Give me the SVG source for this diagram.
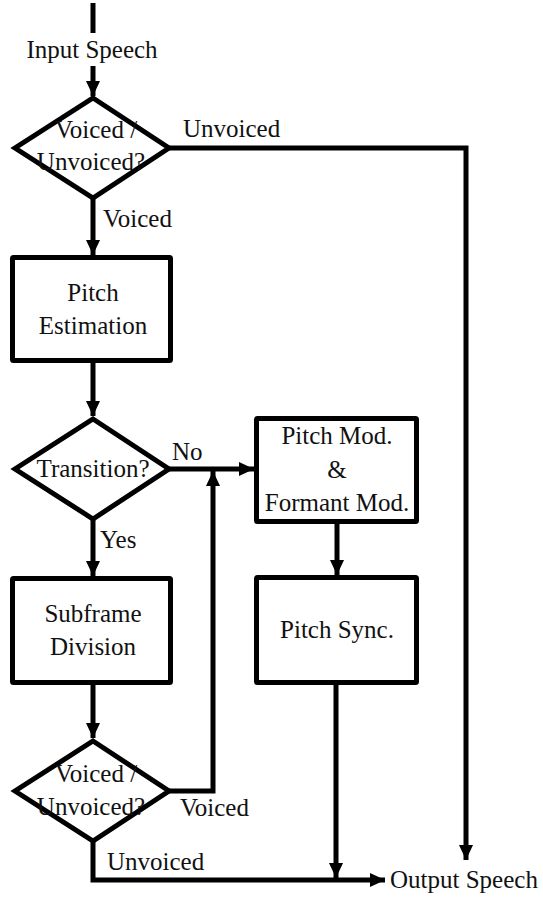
<svg xmlns="http://www.w3.org/2000/svg" width="543" height="897" viewBox="0 0 543 897">
<style>
  .shape { fill: #ffffff; stroke: #000000; stroke-width: 5; stroke-linejoin: miter; }
  .conn { fill: none; stroke: #000000; stroke-width: 5; }
  text { font-family: "Liberation Serif", "Times New Roman", serif; font-size: 25px; fill: #111111; }
  .c { text-anchor: middle; }
</style>
<defs>
  <marker id="arrow" markerUnits="userSpaceOnUse" markerWidth="16" markerHeight="15" refX="15" refY="7" orient="auto">
    <path d="M0,0 L15,7 L0,14 z" fill="#000000"/>
  </marker>
</defs>
<rect width="543" height="897" fill="#ffffff"/>

<g id="connectors">
  <line class="conn" x1="93" y1="3" x2="93" y2="33"/>
  <line class="conn" x1="93" y1="66" x2="93" y2="96" marker-end="url(#arrow)"/>
  <polyline class="conn" points="169,148 466,148 466,860" marker-end="url(#arrow)"/>
  <line class="conn" x1="93" y1="198" x2="93" y2="255" marker-end="url(#arrow)"/>
  <line class="conn" x1="93" y1="363" x2="93" y2="416" marker-end="url(#arrow)"/>
  <line class="conn" x1="169" y1="469" x2="254" y2="469" marker-end="url(#arrow)"/>
  <line class="conn" x1="93" y1="519" x2="93" y2="576" marker-end="url(#arrow)"/>
  <line class="conn" x1="337" y1="524" x2="337" y2="575" marker-end="url(#arrow)"/>
  <line class="conn" x1="93" y1="685" x2="93" y2="738" marker-end="url(#arrow)"/>
  <polyline class="conn" points="169,791 213,791 213,471" marker-end="url(#arrow)"/>
  <polyline class="conn" points="93,841 93,880 385,880" marker-end="url(#arrow)"/>
  <line class="conn" x1="336" y1="685" x2="336" y2="878" marker-end="url(#arrow)"/>
</g>

<g id="input-label">
  <text class="c" x="92" y="58">Input Speech</text>
</g>

<g id="decision-voiced-1">
  <polygon class="shape" points="93,98 169,148 93,198 15,148"/>
  <text class="c" x="96" y="138">Voiced /</text>
  <text class="c" x="91" y="170">Unvoiced?</text>
</g>

<g id="pitch-estimation">
  <rect class="shape" x="12.5" y="257.5" width="158" height="103" rx="1"/>
  <text class="c" x="93" y="301">Pitch</text>
  <text class="c" x="93" y="334">Estimation</text>
</g>

<g id="decision-transition">
  <polygon class="shape" points="93,419 169,469 93,519 15,469"/>
  <text class="c" x="93" y="477">Transition?</text>
</g>

<g id="pitch-formant-mod">
  <rect class="shape" x="256.5" y="418.5" width="160" height="103" rx="1"/>
  <text class="c" x="337" y="444">Pitch Mod.</text>
  <text class="c" x="337" y="478">&amp;</text>
  <text class="c" x="337" y="511">Formant Mod.</text>
</g>

<g id="subframe-division">
  <rect class="shape" x="12.5" y="578.5" width="158" height="104" rx="1"/>
  <text class="c" x="93" y="622">Subframe</text>
  <text class="c" x="93" y="655">Division</text>
</g>

<g id="pitch-sync">
  <rect class="shape" x="256.5" y="577.5" width="160" height="105" rx="1"/>
  <text class="c" x="337" y="638">Pitch Sync.</text>
</g>

<g id="decision-voiced-2">
  <polygon class="shape" points="93,741 169,791 93,841 15,791"/>
  <text class="c" x="96" y="782">Voiced /</text>
  <text class="c" x="91" y="815">Unvoiced?</text>
</g>

<g id="output-label">
  <text x="390" y="888">Output Speech</text>
</g>

<g id="edge-labels">
  <text x="183" y="137">Unvoiced</text>
  <text x="103" y="227">Voiced</text>
  <text x="172" y="460">No</text>
  <text x="100" y="548">Yes</text>
  <text x="180" y="816">Voiced</text>
  <text x="107" y="870">Unvoiced</text>
</g>
</svg>
